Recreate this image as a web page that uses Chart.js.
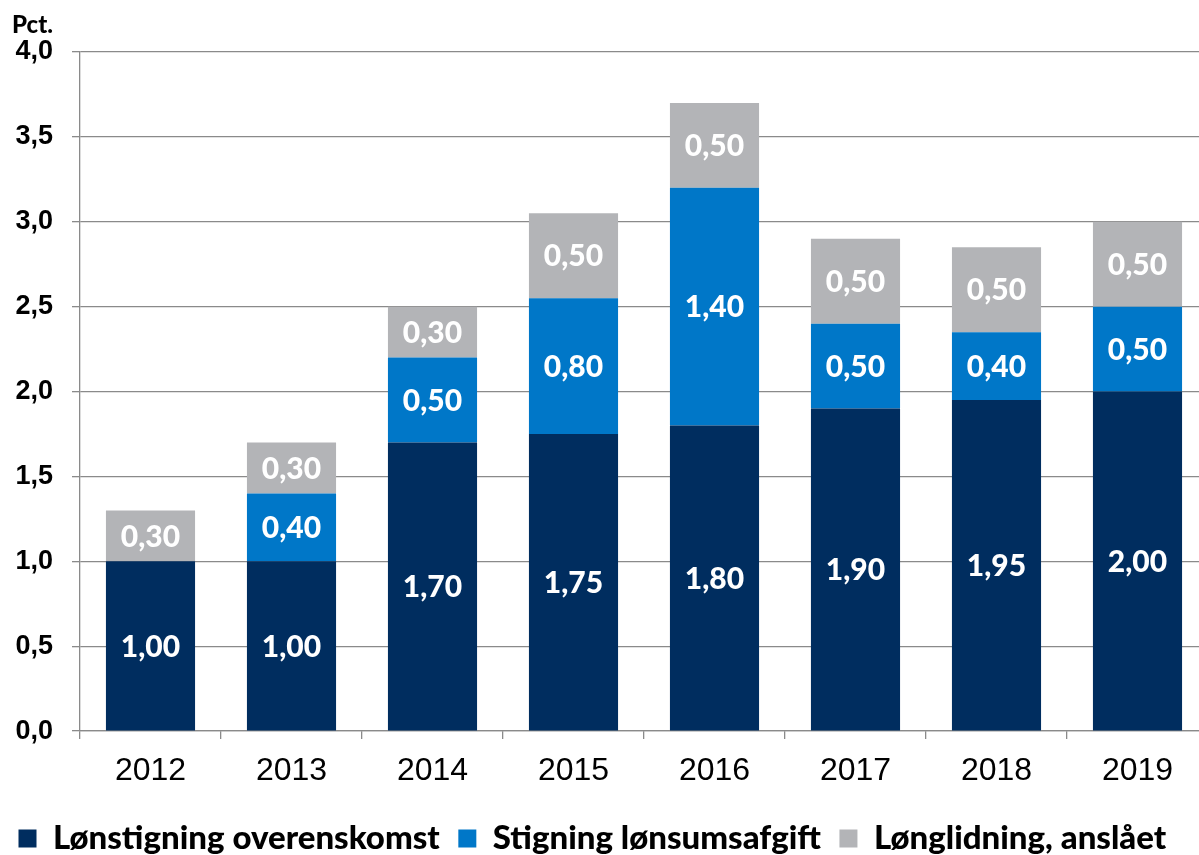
<!DOCTYPE html>
<html>
<head>
<meta charset="utf-8">
<script src="https://cdn.jsdelivr.net/npm/chart.js@4/dist/chart.umd.min.js"></script>
<style>
  html, body { margin: 0; padding: 0; background: #fff; overflow: hidden; }
  /* the original is cut off a few pixels after the last bar and below the legend */
  #wrap { width: 1199px; height: 855px; overflow: hidden; }
</style>
</head>
<body>
<div id="wrap"><canvas id="myChart" width="1208" height="865"></canvas></div>
<script>
var years = ['2012', '2013', '2014', '2015', '2016', '2017', '2018', '2019'];
var overenskomst = [1.00, 1.00, 1.70, 1.75, 1.80, 1.90, 1.95, 2.00];
var lonsumsafgift = [0, 0.40, 0.50, 0.80, 1.40, 0.50, 0.40, 0.50];
var longlidning = [0.30, 0.30, 0.30, 0.50, 0.50, 0.50, 0.50, 0.50];
var seriesNames = ['Lønstigning overenskomst', 'Stigning lønsumsafgift', 'Lønglidning, anslået'];
var yTicks = [0, 0.5, 1, 1.5, 2, 2.5, 3, 3.5, 4];
var unit = 'Pct.';

function komma(v, d) {
    return v.toFixed(d).replace('.', ',');
}

// white value labels in the middle of every segment + unit text top left
var segmentLabels = {
    id: 'segmentLabels',
    afterDatasetsDraw: function (chart) {
        var ctx = chart.ctx;
        ctx.save();
        ctx.fillStyle = '#ffffff';
        ctx.font = '900 30px Lato';
        ctx.textAlign = 'center';
        ctx.textBaseline = 'middle';
        chart.data.datasets.forEach(function (ds, i) {
            var meta = chart.getDatasetMeta(i);
            meta.data.forEach(function (bar, j) {
                var v = ds.data[j];
                if (!v) return;
                var p = bar.getProps(['x', 'y', 'base'], true);
                ctx.fillText(komma(v, 2), p.x, (p.y + p.base) / 2 + 1);
            });
        });
        ctx.fillStyle = '#000';
        ctx.font = '900 24px Lato';
        ctx.textAlign = 'left';
        ctx.textBaseline = 'alphabetic';
        ctx.fillText(unit, 12, 33);
        ctx.restore();
    }
};

var ctx = document.getElementById('myChart').getContext('2d');

var mychart = new Chart(ctx, {
    type: 'bar',
    data: {
        labels: years,
        datasets: [
            { label: seriesNames[0], data: overenskomst, backgroundColor: '#002d5f' },
            { label: seriesNames[1], data: lonsumsafgift, backgroundColor: '#0077c8' },
            { label: seriesNames[2], data: longlidning, backgroundColor: '#b3b4b7' }
        ]
    },
    options: {
        responsive: false,
        animation: false,
        layout: {
            padding: { left: 0, right: 0, top: 52, bottom: 0 }
        },
        datasets: {
            bar: { categoryPercentage: 1, barPercentage: 0.632 }
        },
        plugins: {
            tooltip: { enabled: false },
            legend: {
                position: 'bottom',
                align: 'start',
                labels: {
                    color: '#000',
                    boxWidth: 18,
                    boxHeight: 18,
                    padding: 18.5,
                    font: { family: 'Lato', weight: '900', size: 33 }
                }
            }
        },
        scales: {
            x: {
                stacked: true,
                grid: { drawOnChartArea: false, color: '#8a8a8a', lineWidth: 1.3, tickLength: 8 },
                border: { color: '#8a8a8a', width: 1.3 },
                ticks: {
                    color: '#000',
                    padding: 13,
                    font: { family: 'Liberation Sans', size: 32 }
                }
            },
            y: {
                stacked: true,
                min: 0,
                max: 4,
                afterFit: function (scale) { scale.width = 80; },
                afterBuildTicks: function (scale) {
                    scale.ticks = yTicks.map(function (v) { return { value: v }; });
                },
                grid: { color: '#8a8a8a', lineWidth: 1.3, tickLength: 8 },
                border: { color: '#8a8a8a', width: 1.3 },
                ticks: {
                    color: '#000',
                    padding: 19,
                    font: { family: 'Liberation Sans', weight: 'bold', size: 27 },
                    callback: function (v) { return komma(v, 1); }
                }
            }
        }
    },
    plugins: [segmentLabels]
});
</script>
</body>
</html>
